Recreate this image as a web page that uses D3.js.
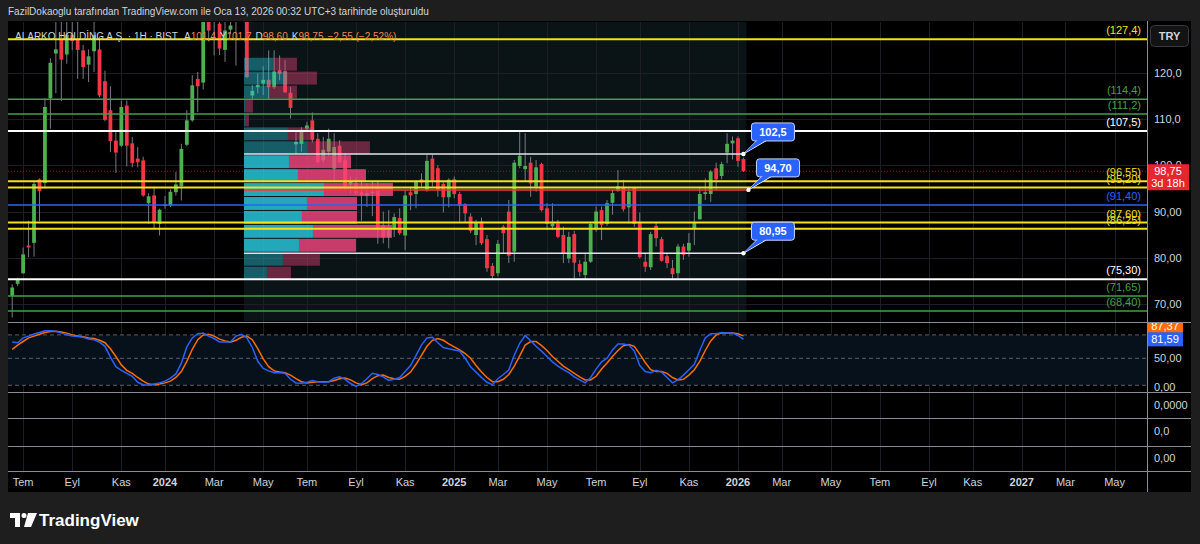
<!DOCTYPE html>
<html>
<head>
<meta charset="utf-8">
<script src="https://cdn.jsdelivr.net/npm/d3@7"></script>
<style>
  body { margin: 0; background: #1e1e1e; }
  svg { display: block; font-family: "Liberation Sans", Arial, sans-serif; }
</style>
</head>
<body>
<div id="chart"></div>
<script>
// ---- data (weekly bars, first bar 2023-06-19) ----
const firstBar = "2023-06-19";
const opens = [71.7,74.3,76.6,82.6,83.2,97.0,96.2,114.6,124.3,127.4,124.1,128.4,127.4,125.0,121.9,124.8,125.2,118.3,112.0,105.4,104.3,113.0,104.8,101.5,101.1,91.8,93.5,87.3,
  91.2,91.3,94.2,95.5,104.5,109.8,118.8,118.0,133.0,131.5,130.8,125.1,129.5,133.0,132.0,131.5,115.2,117.0,117.8,118.6,117.0,120.7,120.5,115.8,104.6,104.7,108.0,109.8,105.8,101.1,103.0,99.3,104.3,101.1,95.8,96.2,94.2,93.4,94.0,95.0,87.0,84.4,86.2,88.6,84.8,94.2,93.8,97.0,94.7,101.5,99.4,96.0,93.1,
  97.0,93.8,91.6,88.9,84.9,87.8,84.0,78.2,76.6,86.7,90.0,81.3,99.9,99.2,100.6,95.4,100.3,90.7,86.8,87.4,84.9,79.8,85.1,78.6,76.2,79.1,86.1,90.3,87.3,91.9,94.5,95.4,90.9,95.2,87.6,79.1,77.9,86.9,84.0,80.3,77.7,76.6,82.4,81.5,86.3,88.3,93.8,93.8,99.4,97.7,102.8,104.8,105.9,101.4];
const highs = [74.2,75.6,82.2,88.0,96.7,97.2,114.6,123.3,132.5,132.5,133.0,133.0,131.5,126.2,125.2,131.5,128.0,120.6,117.2,107.5,114.1,114.1,106.2,104.0,101.9,94.0,95.4,90.6,
  93.4,94.8,98.6,104.7,112.0,119.6,120.3,137.0,136.0,136.0,134.0,131.5,131.5,136.0,135.0,134.0,117.5,120.0,121.5,125.0,125.0,123.9,122.9,117.0,107.7,108.3,109.5,111.5,107.0,106.2,108.0,107.0,105.5,102.6,97.6,97.3,96.8,96.1,96.5,96.5,90.0,90.3,89.6,90.7,94.7,95.4,96.8,98.3,102.3,102.3,100.1,96.5,97.2,
  97.6,94.3,91.8,89.6,88.2,88.7,84.9,78.8,83.8,87.1,92.5,101.2,107.4,107.0,101.9,101.2,100.6,91.8,91.8,88.2,86.7,85.6,85.8,79.5,80.9,87.6,91.1,91.1,92.5,94.7,99.0,96.9,95.4,95.4,89.8,80.9,85.6,87.5,84.5,80.9,79.5,83.0,83.0,85.3,90.0,95.4,97.2,99.0,100.6,100.8,107.0,106.3,106.3,101.7];
const lows = [67.0,73.8,76.5,80.1,80.2,87.9,95.0,108.0,115.7,114.0,122.1,125.0,118.8,118.8,118.1,120.3,114.8,109.6,102.9,98.4,104.0,99.8,99.6,99.6,93.2,87.3,86.2,84.8,
  90.6,91.0,93.5,92.4,104.2,109.5,111.6,116.5,127.0,123.9,124.0,122.5,128.5,121.7,131.5,119.0,114.2,115.7,115.3,114.2,116.6,118.5,115.7,110.2,102.6,103.0,107.5,105.0,100.5,100.5,102.0,96.8,100.5,94.7,93.9,93.5,88.0,91.0,89.0,83.0,83.1,82.0,84.5,84.9,81.6,90.3,90.7,95.4,94.3,95.4,93.2,89.8,90.9,
  92.9,87.8,87.6,85.3,82.7,82.7,76.9,75.3,75.9,81.0,78.8,79.1,99.4,96.5,93.2,94.3,90.0,86.0,86.0,84.2,78.8,78.8,75.5,75.9,75.3,78.8,85.6,83.8,86.9,89.3,94.3,90.0,87.4,86.7,79.8,76.9,77.3,82.4,79.1,77.7,75.5,75.5,79.5,80.2,82.7,88.3,92.5,92.1,94.7,97.0,100.5,101.3,99.7,98.6];
const closes = [73.5,75.2,80.7,82.2,96.0,94.4,112.7,122.3,125.2,123.0,128.4,127.0,125.1,121.4,123.7,128.3,115.2,109.9,105.3,102.8,112.7,104.3,100.5,100.7,93.5,93.3,87.5,90.4,
  91.5,94.3,95.9,103.6,109.8,117.4,117.2,134.0,129.3,133.5,125.4,129.3,130.4,132.5,131.8,119.2,116.2,117.5,118.6,117.0,120.4,119.9,115.9,112.5,105.1,107.6,108.7,105.6,100.7,103.4,105.8,104.0,100.7,95.3,96.4,94.0,93.5,94.0,94.3,86.2,84.4,85.9,88.8,85.3,93.5,93.5,96.5,96.3,101.0,96.7,94.7,93.1,96.9,
  93.8,91.2,89.6,85.8,87.6,83.1,77.7,76.0,83.0,85.3,80.4,100.6,102.1,99.9,96.1,99.6,90.3,87.3,87.4,84.5,80.9,84.5,78.9,76.9,79.1,87.3,90.0,87.1,91.8,94.0,95.5,90.5,94.3,87.3,80.1,78.0,85.1,84.2,79.3,78.8,76.4,82.4,80.6,83.2,87.6,93.8,94.2,98.7,97.0,100.3,104.7,105.4,101.0,98.75];

// stochastic RSI (%K blue, %D orange), one value per bar
const stochK = [77,76,84,87,90.5,93,96,96,95,92,89,87,86.5,85,82,81,77,70,52,36,30,25,20,10,6,5,7,9,
  12,17,24,42,69,84,91,92,87,83,77,77,77,87,90,84,68,45,33,29,26,26,25,15,9,8.5,10,13,11,10,11,17,19,15,8,3,8,16,25,23,19,13,15,18,
  28,38,55,72,84,85,76,68,66,64,62,50,36,27,18,10,6,16,23,31,55,75,88,79,70,62,53,44,37,31,26,19,14,9,18,32,44,50,64,74,74,72,62,38,28,26,30,27,18,9,14,22,31,40,63,84,91,91,93,92,92,88,81.59];
const stochD = [65,72,78,84,87,90,93,94.5,95,94,92,89,87,86,84,83,80,76,66,53,39,30,25,18,12,7,6,7,
  9,12,18,28,45,65,81,89,90,87,82,79,77,80,85,87,81,66,49,36,29,27,26,22,16,11,9,10,11,11,11,13,16,17,14,9,6,9,16,21,22,18,16,15,
  20,27,40,55,70,80,83,80,74,69,64,58,50,38,27,18,11,11,15,23,37,54,72,78,78,71,63,53,45,37,31,25,19,14,14,20,32,42,53,63,71,73,70,57,43,31,28,28,25,18,14,15,22,31,45,63,79,89,92,92,92,91,87.37];
const stochBands = [89, 50, 5];

// horizontal levels drawn across the chart
const levelValues = [127.4, 114.4, 111.2, 107.5, 96.55, 95.20, 91.40, 87.60, 86.25, 75.30, 71.65, 68.40];
const levelLabels = ["(127,4)","(114,4)","(111,2)","(107,5)","(96,55)","(95,20)","(91,40)","(87,60)","(86,25)","(75,30)","(71,65)","(68,40)"];
const levelColors = ["#f5e11b","#43a047","#43a047","#ffffff","#f5e11b","#f5e11b","#2962ff","#f5e11b","#f5e11b","#ffffff","#43a047","#43a047"];

// fixed range volume profile (16 price rows, top to bottom)
const vpFrom = "2024-04-15", vpTo = "2026-01-12";
const vpHigh = 123.4, vpLow = 75.0;
const vpUp =   [29,44,25,1,1,44,63,45,54,80,63,58,69,55,39,23];
const vpDown = [24,29,28,8,4,26,63,62,68,69,50,55,79,57,37,24];
const vpValueArea = [false,false,false,false,false,false,false,true,true,true,true,true,true,true,false,false];
const vpCallouts = [{v: 102.5, label: "102,5"}, {v: 94.70, label: "94,70"}, {v: 80.95, label: "80,95"}];

// axes
const priceTicks = [120, 110, 100, 90, 80, 70];
const priceTickLabels = ["120,0","110,0","100,0","90,00","80,00","70,00"];
const timeTickDates = ["2023-07-03","2023-09-04","2023-11-06","2024-01-01","2024-03-04","2024-05-06","2024-07-01","2024-09-02","2024-11-04",
  "2025-01-06","2025-03-03","2025-05-05","2025-07-07","2025-09-01","2025-11-03","2026-01-05","2026-03-02","2026-05-04","2026-07-06",
  "2026-09-07","2026-11-02","2027-01-04","2027-03-01","2027-05-03"];
const timeTickLabels = ["Tem","Eyl","Kas","2024","Mar","May","Tem","Eyl","Kas","2025","Mar","May","Tem","Eyl","Kas","2026","Mar","May","Tem","Eyl","Kas","2027","Mar","May"];

// ---- layout ----
const W = 1200, H = 544;
const left = 8, right = 1191, plotRight = 1147;
const main = {top: 22, bottom: 321};
const stochPane = {top: 323, bottom: 392};
const parse = d3.timeParse("%Y-%m-%d");
const bar0 = parse(firstBar);
const dates = opens.map((d, i) => d3.timeDay.offset(bar0, 7 * i));
const bars = dates.map((d, i) => ({date: d, o: opens[i], h: highs[i], l: lows[i], c: closes[i], k: stochK[i], dd: stochD[i]}));

const x = d3.scaleTime().domain([parse("2024-01-01"), parse("2026-01-05")]).range([165, 738]);
const y = d3.scaleLinear().domain([68.4, 127.4]).range([311, 39.3]);
const ys = d3.scaleLinear().domain([0, 100]).range([388.3, 328.3]);
const barW = 3.8;

const svg = d3.select("#chart").append("svg").attr("width", W).attr("height", H);
svg.append("rect").attr("width", W).attr("height", H).attr("fill", "#1e1e1e");
svg.append("rect").attr("x", left).attr("y", 21).attr("width", right - left).attr("height", 471).attr("fill", "#000");

// header text
svg.append("text").attr("x", 8).attr("y", 15).attr("font-size", 10).attr("fill", "#d1d4dc")
  .text("FazilDokaoglu tarafından TradingView.com ile Oca 13, 2026 00:32 UTC+3 tarihinde oluşturuldu");

const defs = svg.append("defs");
defs.append("clipPath").attr("id", "clipMain").append("rect")
  .attr("x", left).attr("y", main.top).attr("width", plotRight - left).attr("height", main.bottom - main.top);
defs.append("clipPath").attr("id", "clipStoch").append("rect")
  .attr("x", left).attr("y", stochPane.top).attr("width", plotRight - left).attr("height", stochPane.bottom - stochPane.top);

// volume profile range background
const vpX0 = x(parse(vpFrom)) - barW / 2 - 1, vpX1 = x(parse(vpTo)) + 3;
svg.append("rect").attr("x", vpX0).attr("y", main.top).attr("width", vpX1 - vpX0)
  .attr("height", main.bottom - main.top).attr("fill", "#0a1316");

// grid
const grid = svg.append("g").attr("stroke", "#1c1f24").attr("stroke-width", 1);
timeTickDates.forEach(d => {
  const gx = Math.round(x(parse(d))) + 0.5;
  grid.append("line").attr("x1", gx).attr("x2", gx).attr("y1", main.top).attr("y2", 471);
});
priceTicks.forEach(p => {
  const gy = Math.round(y(p)) + 0.5;
  grid.append("line").attr("x1", left).attr("x2", plotRight).attr("y1", gy).attr("y2", gy);
});

const mainG = svg.append("g").attr("clip-path", "url(#clipMain)");

// current price dotted line
mainG.append("line").attr("x1", left).attr("x2", plotRight).attr("y1", y(closes[closes.length - 1])).attr("y2", y(closes[closes.length - 1]))
  .attr("stroke", "#8c1d26").attr("stroke-dasharray", "1,2");

// candles
const candle = mainG.append("g").selectAll("g").data(bars).join("g");
candle.append("line")
  .attr("x1", d => x(d.date)).attr("x2", d => x(d.date))
  .attr("y1", d => y(d.h)).attr("y2", d => y(d.l))
  .attr("stroke", "#787b86").attr("stroke-width", 1);
candle.append("rect")
  .attr("x", d => x(d.date) - barW / 2).attr("width", barW)
  .attr("y", d => y(Math.max(d.o, d.c)))
  .attr("height", d => Math.max(1, Math.abs(y(d.o) - y(d.c))))
  .attr("fill", d => d.c >= d.o ? "#4caf50" : "#f23645");

// volume profile rows (drawn over candles, semi transparent)
const rowStep = (vpHigh - vpLow) / vpUp.length;
const vw = d3.scaleLinear().domain([0, d3.max(vpUp.map((u, i) => u + vpDown[i]))]).range([0, 149]);
const vp = mainG.append("g");
vpUp.forEach((u, i) => {
  const top = y(vpHigh - i * rowStep), bot = y(vpHigh - (i + 1) * rowStep);
  const a = vpValueArea[i] ? 0.8 : 0.4;
  vp.append("rect").attr("x", vpX0).attr("y", top).attr("width", vw(u)).attr("height", bot - top - 1)
    .attr("fill", "#29cee2").attr("fill-opacity", a);
  vp.append("rect").attr("x", vpX0 + vw(u)).attr("y", top).attr("width", vw(vpDown[i])).attr("height", bot - top - 1)
    .attr("fill", "#f84680").attr("fill-opacity", a);
});

// levels
const lv = mainG.append("g");
levelValues.forEach((v, i) => {
  lv.append("line").attr("x1", left).attr("x2", plotRight).attr("y1", y(v)).attr("y2", y(v))
    .attr("stroke", levelColors[i]).attr("stroke-width", levelColors[i] === "#f5e11b" || levelColors[i] === "#ffffff" ? 2 : 1.5);
});
levelValues.forEach((v, i) => {
  lv.append("text").attr("x", 1141).attr("y", y(v) - 5).attr("text-anchor", "end")
    .attr("font-size", 11).attr("fill", levelColors[i]).text(levelLabels[i]);
});

// VAH / POC / VAL lines + callouts
const lastX = x(dates[dates.length - 1]);
vpCallouts.forEach((c, i) => {
  const isPoc = i === 1;
  const px = isPoc ? lastX + 5 : lastX, py = y(c.v);
  lv.append("line").attr("x1", vpX0).attr("x2", px).attr("y1", py).attr("y2", py)
    .attr("stroke", isPoc ? "#f23645" : "#e0e3eb").attr("stroke-width", isPoc ? 1.5 : 1.5);
  const bx = px + 8, by = py - 31, bw = 43, bh = 18;
  lv.append("path")
    .attr("d", `M${px},${py} L${bx + 6},${by + bh - 1} L${bx + 16},${by + bh - 1} Z`)
    .attr("fill", "#2962ff").attr("stroke", "#e8ecff").attr("stroke-width", 1);
  lv.append("rect").attr("x", bx).attr("y", by).attr("width", bw).attr("height", bh).attr("rx", 3)
    .attr("fill", "#2962ff").attr("stroke", "#c9d4ff").attr("stroke-width", 1);
  lv.append("path")
    .attr("d", `M${px + 1},${py - 1} L${bx + 7},${by + bh - 1.5} L${bx + 15},${by + bh - 1.5} Z`)
    .attr("fill", "#2962ff");
  lv.append("text").attr("x", bx + bw / 2).attr("y", by + 13).attr("text-anchor", "middle")
    .attr("font-size", 11).attr("font-weight", "bold").attr("fill", "#fff").text(c.label);
  lv.append("circle").attr("cx", px).attr("cy", py).attr("r", 2.2).attr("fill", "#fff");
});

// legend
const leg = svg.append("text").attr("x", 15).attr("y", 40).attr("font-size", 10).attr("fill", "#d1d4dc");
leg.append("tspan").text("ALARKO HOLDİNG A.Ş. · 1H · BIST");
const legVals = [["A", "101,4"], ["Y", "101,7"], ["D", "98,60"], ["K", "98,75"]];
legVals.forEach(([k, v], i) => {
  leg.append("tspan").attr("dx", i === 0 ? 7 : 4).text(k);
  leg.append("tspan").attr("fill", "#f7844f").text(v);
});
leg.append("tspan").attr("dx", 4).attr("fill", "#f7844f").text("−2,55 (−2,52%)");

// stochastic pane
const st = svg.append("g").attr("clip-path", "url(#clipStoch)");
st.append("rect").attr("x", left).attr("width", plotRight - left)
  .attr("y", ys(stochBands[0])).attr("height", ys(stochBands[2]) - ys(stochBands[0])).attr("fill", "#07111c");
stochBands.forEach(b => {
  st.append("line").attr("x1", left).attr("x2", plotRight).attr("y1", ys(b)).attr("y2", ys(b))
    .attr("stroke", "#5d606b").attr("stroke-dasharray", "4,3");
});
st.append("path").datum(bars).attr("fill", "none").attr("stroke", "#ff6d00").attr("stroke-width", 1.5)
  .attr("d", d3.line().x(d => x(d.date)).y(d => ys(d.dd)));
st.append("path").datum(bars).attr("fill", "none").attr("stroke", "#2962ff").attr("stroke-width", 1.5)
  .attr("d", d3.line().x(d => x(d.date)).y(d => ys(d.k)));

// pane separators
const sep = svg.append("g").attr("stroke", "#8a8d96").attr("stroke-width", 1);
[322.5, 392.5, 418.5, 446.5, 471.5].forEach(sy => sep.append("line").attr("x1", left).attr("x2", right).attr("y1", sy).attr("y2", sy));
sep.append("line").attr("x1", plotRight + 0.5).attr("x2", plotRight + 0.5).attr("y1", 21).attr("y2", 492);

// price axis
const pa = svg.append("g").attr("font-size", 11).attr("fill", "#d1d4dc");
priceTicks.forEach((p, i) => pa.append("text").attr("x", 1154).attr("y", y(p) + 4).text(priceTickLabels[i]));
pa.append("text").attr("x", 1154).attr("y", ys(50) + 4).text("50,00");
pa.append("text").attr("x", 1154).attr("y", 391).text("0,00");
pa.append("text").attr("x", 1154).attr("y", 409).text("0,0000");
pa.append("text").attr("x", 1154).attr("y", 435).text("0,0");
pa.append("text").attr("x", 1154).attr("y", 462).text("0,00");

// last price label
const lp = y(closes[closes.length - 1]);
svg.append("rect").attr("x", 1148).attr("y", lp - 7).attr("width", 41).attr("height", 26).attr("fill", "#e5262f");
svg.append("text").attr("x", 1168).attr("y", lp + 4).attr("text-anchor", "middle").attr("font-size", 11).attr("fill", "#fff").text("98,75");
svg.append("text").attr("x", 1168).attr("y", lp + 16).attr("text-anchor", "middle").attr("font-size", 11).attr("fill", "#fff").text("3d 18h");

// stoch value labels
const lastK = stochK[stochK.length - 1], lastD = stochD[stochD.length - 1];
defs.append("clipPath").attr("id", "clipStochAxis").append("rect").attr("x", plotRight).attr("y", stochPane.top).attr("width", 60).attr("height", 70);
const stl = svg.append("g").attr("clip-path", "url(#clipStochAxis)");
stl.append("rect").attr("x", 1148).attr("y", ys(lastD) - 17).attr("width", 35).attr("height", 14).attr("fill", "#ff6d00");
stl.append("text").attr("x", 1165).attr("y", ys(lastD) - 6).attr("text-anchor", "middle").attr("font-size", 11).attr("fill", "#fff").text(String(lastD).replace(".", ","));
stl.append("rect").attr("x", 1148).attr("y", ys(lastK) - 7).attr("width", 35).attr("height", 14).attr("fill", "#2962ff");
stl.append("text").attr("x", 1165).attr("y", ys(lastK) + 4).attr("text-anchor", "middle").attr("font-size", 11).attr("fill", "#fff").text(String(lastK).replace(".", ","));

// currency button
svg.append("rect").attr("x", 1150.5).attr("y", 25.5).attr("width", 38).attr("height", 21).attr("rx", 4)
  .attr("fill", "#131313").attr("stroke", "#3a3b40");
svg.append("text").attr("x", 1169.5).attr("y", 40).attr("text-anchor", "middle").attr("font-size", 11)
  .attr("font-weight", "bold").attr("fill", "#d1d4dc").text("TRY");

// time axis
const ta = svg.append("g").attr("font-size", 11).attr("fill", "#d1d4dc");
timeTickDates.forEach((d, i) => {
  ta.append("text").attr("x", x(parse(d))).attr("y", 486).attr("text-anchor", "middle")
    .attr("font-weight", /^\d{4}$/.test(timeTickLabels[i]) ? "bold" : "normal").text(timeTickLabels[i]);
});

// TradingView logo
const logo = svg.append("g").attr("fill", "#fff");
logo.append("path").attr("d", "M10,513 h10 v14 h-5 v-9 h-5 Z");
logo.append("circle").attr("cx", 24).attr("cy", 515.5).attr("r", 2.5);
logo.append("path").attr("d", "M28,513 h9 l-6,14 h-7 Z");
logo.append("text").attr("x", 39).attr("y", 526).attr("font-size", 17).attr("font-weight", "bold").text("TradingView");
</script>
</body>
</html>
